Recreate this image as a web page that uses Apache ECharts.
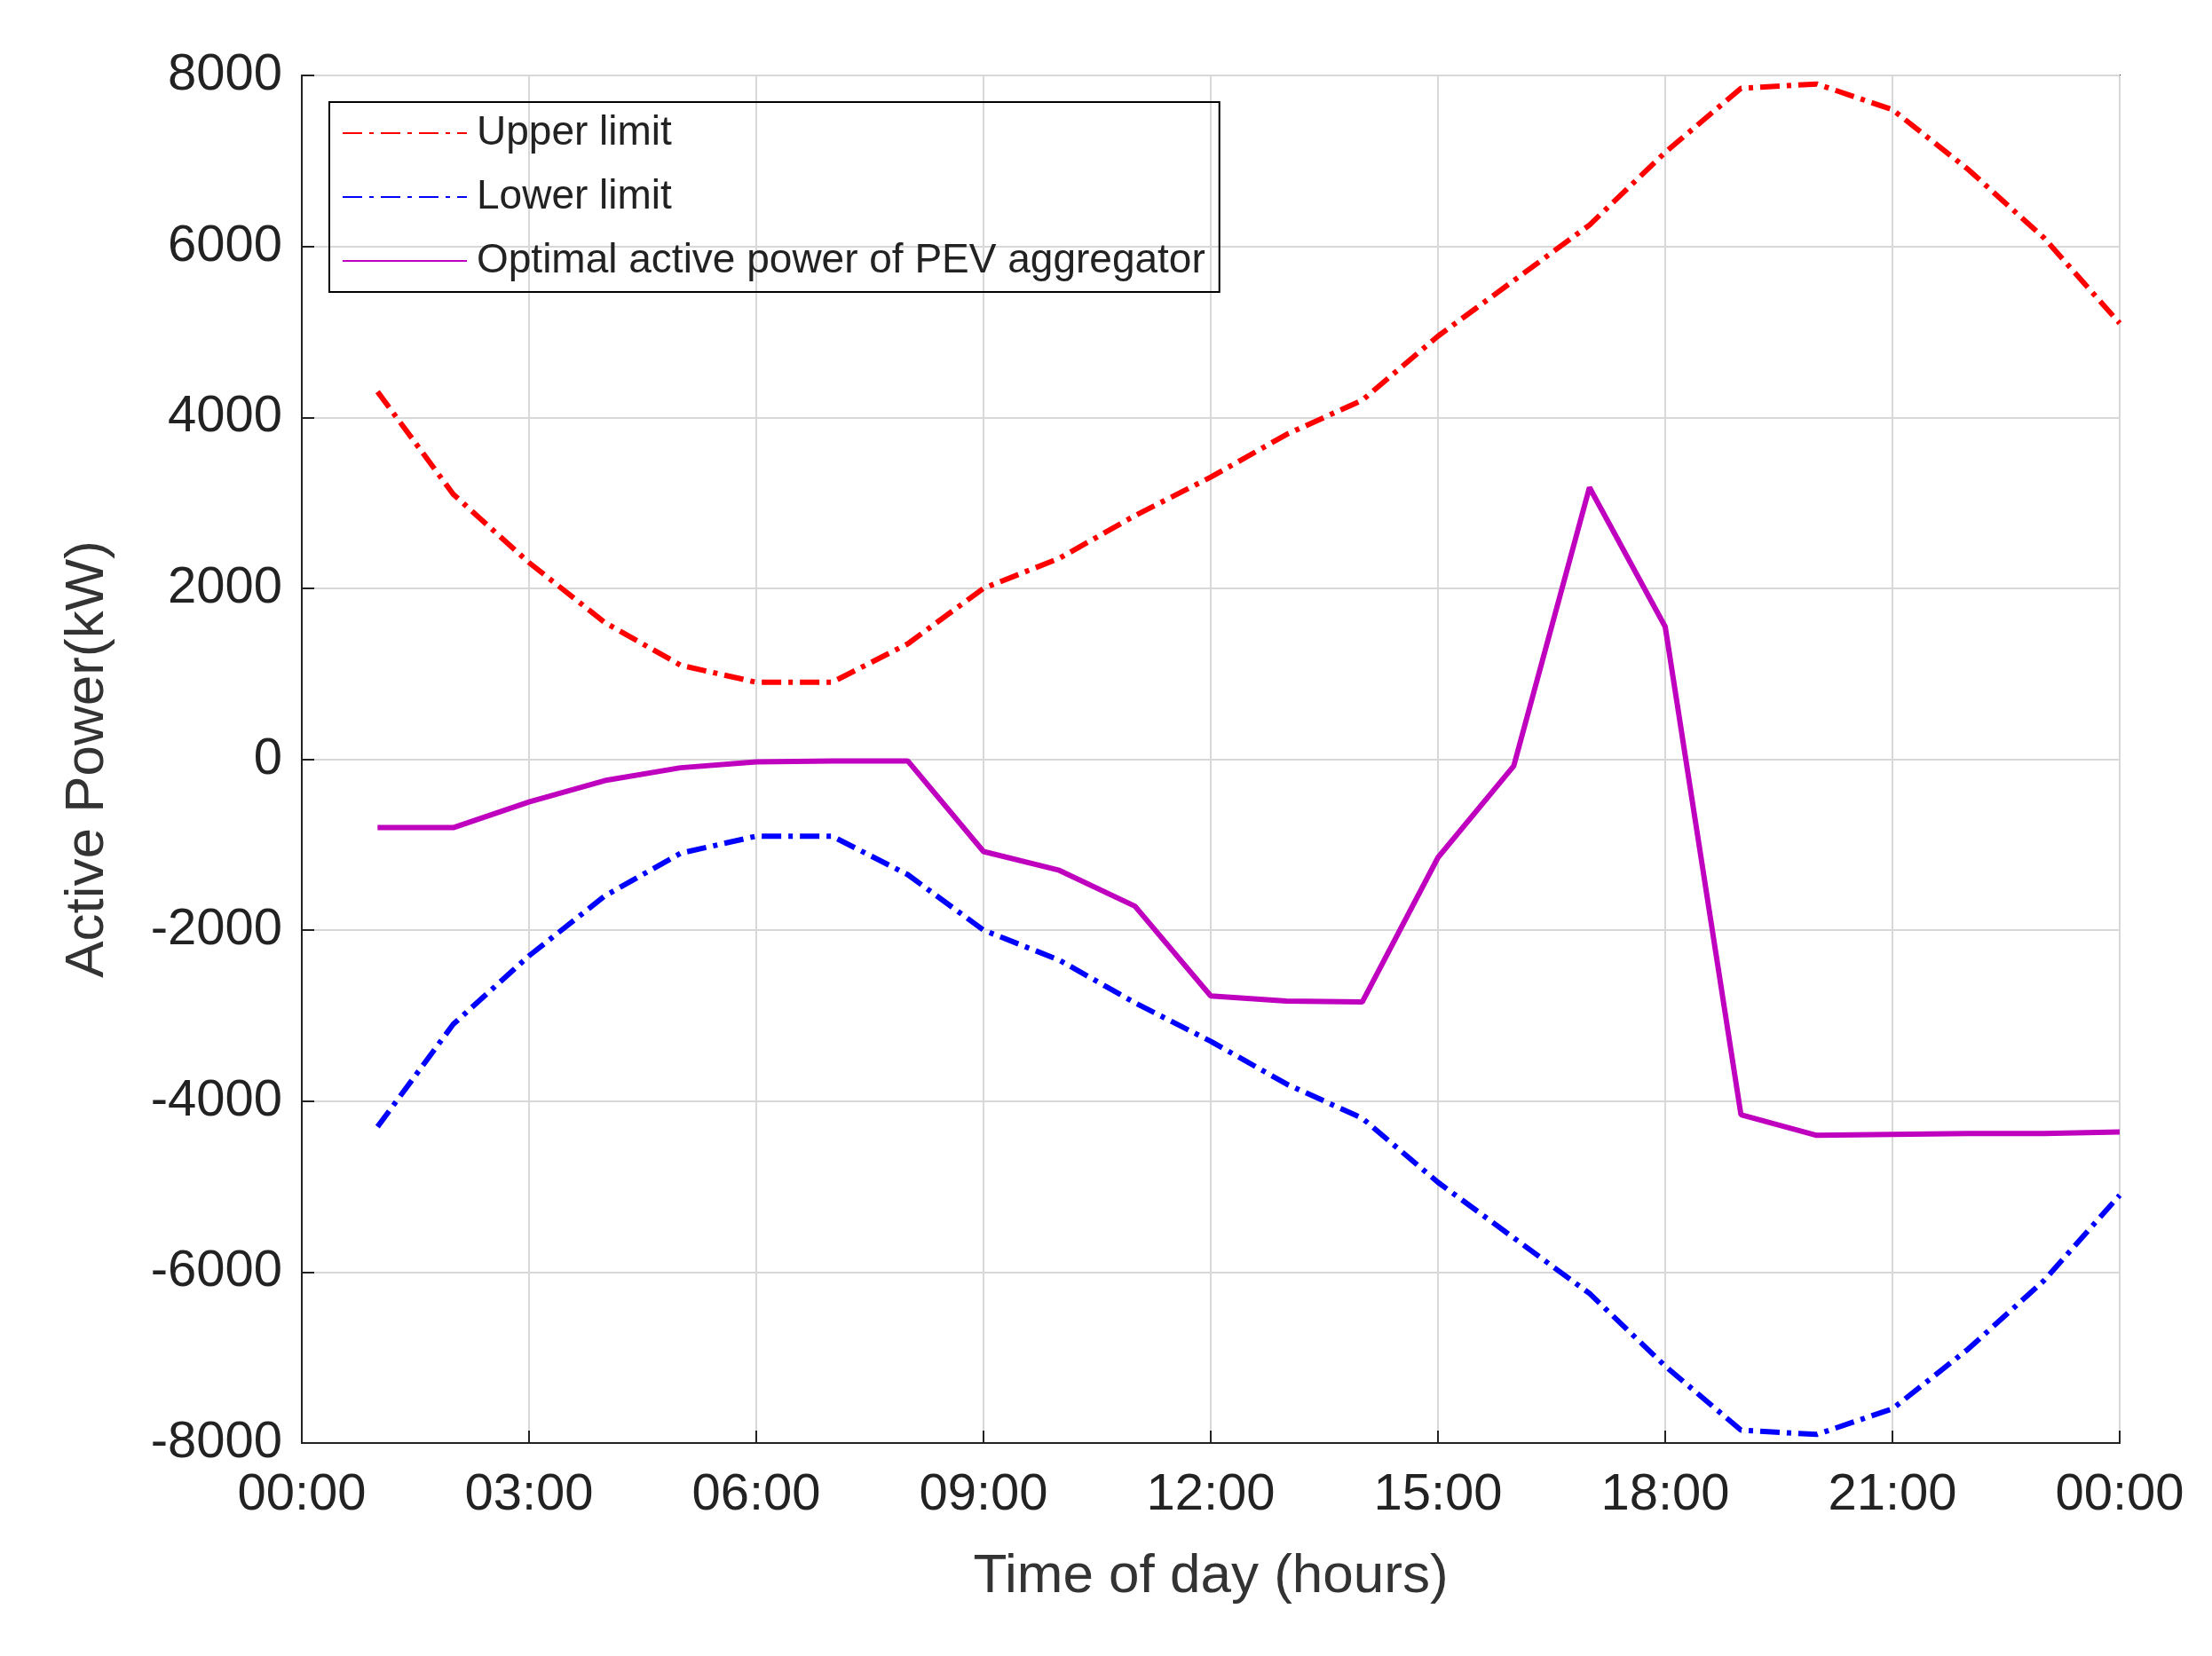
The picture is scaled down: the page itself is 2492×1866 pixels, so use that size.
<!DOCTYPE html>
<html>
<head>
<meta charset="UTF-8">
<script src="https://cdn.jsdelivr.net/npm/echarts@6/dist/echarts.min.js"></script>
<style>html,body{margin:0;background:#fff}#main{width:2492px;height:1866px}</style>
</head>
<body>
<div id="main"></div>
<script>
var hours = [1,2,3,4,5,6,7,8,9,10,11,12,13,14,15,16,17,18,19,20,21,22,23,24];
var upper = [4300,3100,2300,1600,1100,900,900,1350,2000,2350,2850,3300,3800,4200,4950,5600,6250,7100,7850,7900,7600,6900,6100,5100];
var lower = [-4300,-3100,-2300,-1600,-1100,-900,-900,-1350,-2000,-2350,-2850,-3300,-3800,-4200,-4950,-5600,-6250,-7100,-7850,-7900,-7600,-6900,-6100,-5100];
var optimal = [-800,-800,-500,-250,-100,-30,-20,-20,-1080,-1300,-1720,-2770,-2830,-2840,-1150,-80,3180,1550,-4160,-4400,-4390,-4380,-4380,-4360];

function pairs(v){ return hours.map(function(h,i){ return [h, v[i]]; }); }
var font = 'Liberation Sans';
var chart = echarts.init(document.getElementById('main'));
chart.setOption({
    animation: false,
    grid: {left: 340, right: 104, top: 85, bottom: 240, show: true, borderColor: '#222', borderWidth: 2},
    legend: {
        orient: 'vertical', left: 371, top: 115,
        borderColor: '#000', borderWidth: 2, padding: [12, 16, 12, 14],
        itemWidth: 140, itemHeight: 20, itemGap: 26,
        itemStyle: {opacity: 0},
        textStyle: {fontFamily: font, fontSize: 46, color: '#222', padding: [0, 0, 0, 6]},
        data: ['Upper limit', 'Lower limit', 'Optimal active power of PEV aggregator']
    },
    xAxis: {
        type: 'value', min: 0, max: 24, interval: 3,
        name: 'Time of day (hours)', nameLocation: 'middle', nameGap: 120,
        nameTextStyle: {fontFamily: font, fontSize: 62, color: '#333'},
        axisLine: {onZero: false, lineStyle: {color: '#222', width: 2}},
        axisTick: {inside: true, length: 14, lineStyle: {color: '#222', width: 2}},
        axisLabel: {fontFamily: font, fontSize: 58, color: '#222', margin: 30,
            formatter: function(v){ var h = v % 24; return (h < 10 ? '0' : '') + h + ':00'; }},
        splitLine: {show: true, lineStyle: {color: '#d8d8d8', width: 2}}
    },
    yAxis: {
        type: 'value', min: -8000, max: 8000, interval: 2000,
        name: 'Active Power(kW)', nameLocation: 'middle', nameGap: 210,
        nameTextStyle: {fontFamily: font, fontSize: 62, color: '#333'},
        axisLine: {show: true, lineStyle: {color: '#222', width: 2}},
        axisTick: {inside: true, length: 14, lineStyle: {color: '#222', width: 2}},
        axisLabel: {fontFamily: font, fontSize: 58, color: '#222', margin: 22,
            formatter: function(v){ return String(v); }},
        splitLine: {show: true, lineStyle: {color: '#d8d8d8', width: 2}}
    },
    series: [
        {name: 'Upper limit', type: 'line', data: pairs(upper), symbol: 'none', color: '#ff0000',
            lineStyle: {width: 6, type: [22, 8, 5, 8]}},
        {name: 'Lower limit', type: 'line', data: pairs(lower), symbol: 'none', color: '#0000ff',
            lineStyle: {width: 6, type: [22, 8, 5, 8]}},
        {name: 'Optimal active power of PEV aggregator', type: 'line', data: pairs(optimal), symbol: 'none', color: '#bf00bf',
            lineStyle: {width: 6}}
    ]
});
</script>
</body>
</html>
